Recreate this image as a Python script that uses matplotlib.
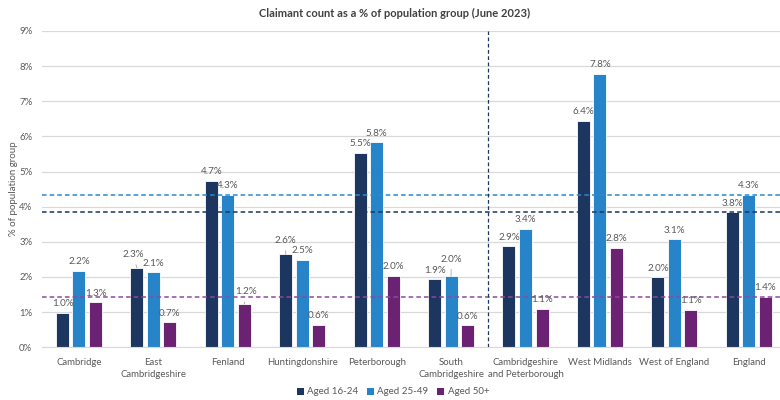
import matplotlib
matplotlib.use("Agg")
from matplotlib import pyplot as plt
from matplotlib.patches import Patch
import numpy as np

plt.rcParams['font.family'] = ['Lato', 'DejaVu Sans']

# claimant rate by area, June 2023 (% of each age group)
areas = ['Cambridge', 'East\nCambridgeshire', 'Fenland', 'Huntingdonshire',
         'Peterborough', 'South\nCambridgeshire', 'Cambridgeshire\nand Peterborough',
         'West Midlands', 'West of England', 'England']
aged_16_24 = [0.98, 2.26, 4.74, 2.64, 5.54, 1.94, 2.87, 6.44, 1.99, 3.84]
aged_25_49 = [2.17, 2.13, 4.34, 2.49, 5.84, 2.02, 3.37, 7.78, 3.07, 4.34]
aged_50_plus = [1.28, 0.71, 1.23, 0.64, 2.04, 0.63, 1.09, 2.83, 1.06, 1.44]
series_names = ['Aged 16-24', 'Aged 25-49', 'Aged 50+']
colours = ['#1c365f', '#2784c8', '#6b2273']
ref_colours = ['#1c365f', '#2e88cc', '#8c4a9c']

# labels nudged out of the way: (area, series) -> (dx, dy) in pixels
label_nudge = {(1, 0): (-4, 13), (2, 2): (2, 12), (3, 0): (0, 14), (5, 1): (0, 17)}

fig = plt.figure(figsize=(7.8, 4), dpi=100)
ax = fig.add_axes([42 / 780, 0.132, 738 / 780, 0.7905])

x = np.arange(len(areas))
pitch = 0.222
width = 0.175
all_series = [aged_16_24, aged_25_49, aged_50_plus]

for s, (vals, name, col) in enumerate(zip(all_series, series_names, colours)):
    xs = x + (s - 1) * pitch
    ax.bar(xs, vals, width, color=col, edgecolor='white', linewidth=0.6,
           label=name, zorder=2)
    for i, (xi, v) in enumerate(zip(xs, vals)):
        dx, dy = label_nudge.get((i, s), (0, 9))
        arrow = None
        if dy > 11:
            arrow = dict(arrowstyle='-', color='#a6a6a6', lw=0.6,
                         shrinkA=2, shrinkB=0)
        ax.annotate(f'{v:.1f}%', (xi, v), xytext=(dx, dy),
                    textcoords='offset pixels', ha='center', va='center',
                    fontsize=7.1, color='#595959', arrowprops=arrow, zorder=4)

# England rates as reference lines
for v, col in zip([aged_16_24[-1], aged_25_49[-1], aged_50_plus[-1]], ref_colours):
    ax.axhline(v, color=col, ls=(0, (3, 2)), lw=1.1, zorder=3)

# split local areas from comparators
ax.axvline(5.5, color='#1c365f', ls=(0, (3, 2)), lw=0.9, zorder=3)

ax.set_xlim(-0.497, 9.42)
ax.set_ylim(0, 9)
ax.set_yticks(range(0, 10))
ax.set_yticklabels([f'{t}%' for t in range(0, 10)])
ax.set_xticks(x)
ax.set_xticklabels(areas, linespacing=1.35)
ax.grid(axis='y', color='#d9d9d9', lw=0.9, zorder=0)
ax.tick_params(axis='both', length=0, labelsize=6.9, labelcolor='#595959')
ax.tick_params(axis='x', pad=8)
ax.tick_params(axis='y', pad=7)
for side in ['top', 'right', 'left']:
    ax.spines[side].set_visible(False)
ax.spines['bottom'].set_color('#d9d9d9')

fig.text(14 / 780, 0.5275, '% of population group', rotation=90,
         ha='center', va='center', fontsize=7, color='#595959')
fig.text(0.506, 0.967, 'Claimant count as a % of population group (June 2023)',
         ha='center', va='center', fontsize=8, fontweight='bold', color='#404040')

handles = [Patch(facecolor=c) for c in colours]
fig.legend(handles, series_names, loc='center', bbox_to_anchor=(0.504, 0.02),
           ncol=3, frameon=False, fontsize=7, labelcolor='#595959',
           handlelength=0.7, handleheight=0.7, handletextpad=0.35, columnspacing=0.9)

fig.savefig('out.png', dpi=100, facecolor='white')
